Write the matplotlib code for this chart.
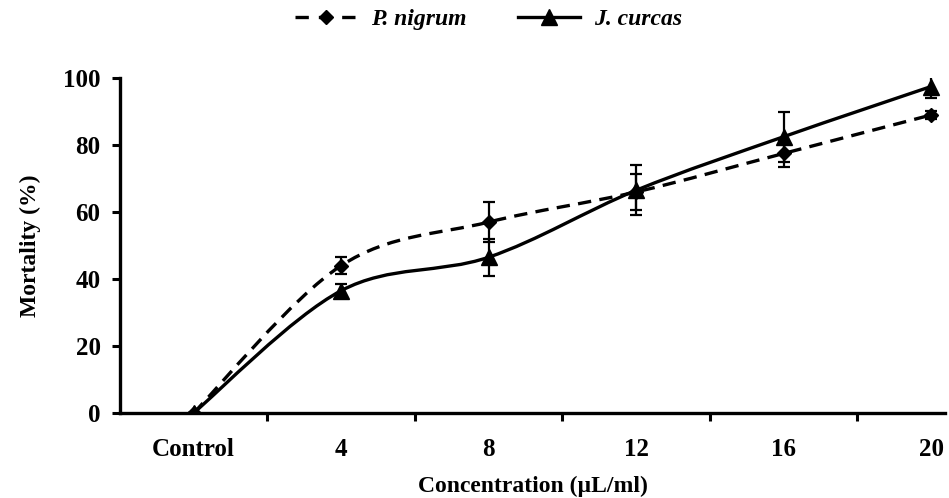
import matplotlib
matplotlib.use("Agg")
import numpy as np
import matplotlib.pyplot as plt
from matplotlib.path import Path
from matplotlib.patches import PathPatch
from matplotlib.lines import Line2D

categories = ["Control", "4", "8", "12", "16", "20"]
nigrum = [0, 44, 57, 66, 77.5, 89]
nigrum_err = [0, 2.5, 6, 5.5, 4, 1.2]
curcas = [0, 36.5, 46.5, 66.5, 82.5, 97.5]
curcas_err = [0, 2, 5.5, 7.5, 7.5, 3.3]


def smooth_path(xs, ys):
    # Excel-like smoothed line: cubic bezier through each point
    pts = np.column_stack([xs, ys]).astype(float)
    n = len(pts)
    verts = [pts[0]]
    codes = [Path.MOVETO]
    for i in range(n - 1):
        p0 = pts[max(i - 1, 0)]
        p1 = pts[i]
        p2 = pts[i + 1]
        p3 = pts[min(i + 2, n - 1)]
        c1 = p1 + (p2 - p0) / 6.0
        c2 = p2 - (p3 - p1) / 6.0
        verts += [c1, c2, p2]
        codes += [Path.CURVE4] * 3
    return Path(verts, codes)


plt.rcParams["font.family"] = ["Liberation Serif", "DejaVu Serif"]
plt.rcParams["font.weight"] = "bold"

fig = plt.figure(figsize=(9.49, 4.98), dpi=100)
ax = fig.add_axes([0.1264, 0.171, 0.8694, 0.672])

x = np.arange(len(categories))

ax.add_patch(PathPatch(smooth_path(x, nigrum), fill=False, color="black",
                       lw=2.4, linestyle=(0, (4, 2.5)), zorder=3))
ax.add_patch(PathPatch(smooth_path(x, curcas), fill=False, color="black",
                       lw=2.4, zorder=3))

ax.errorbar(x, nigrum, yerr=nigrum_err, fmt="none", ecolor="black",
            elinewidth=1.6, capsize=4, capthick=1.6, zorder=4)
ax.errorbar(x, curcas, yerr=curcas_err, fmt="none", ecolor="black",
            elinewidth=1.6, capsize=4, capthick=1.6, zorder=4)
ax.plot(x, nigrum, linestyle="none", marker="D", markersize=7,
        color="black", zorder=5)
ax.plot(x, curcas, linestyle="none", marker="^", markersize=12,
        color="black", zorder=5)

ax.set_xlim(-0.5, 5.095)
ax.set_ylim(0, 100)
ax.set_yticks([0, 20, 40, 60, 80, 100])
ax.set_xticks(x)
ax.set_xticklabels(categories)
ax.set_xticks(np.arange(0.5, 5, 1), minor=True)
ax.tick_params(axis="x", which="major", length=0, pad=18, labelsize=18)
ax.tick_params(axis="x", which="minor", length=6, width=2.2, direction="out")
ax.tick_params(axis="y", length=6, width=2.2, direction="out", labelsize=18,
               pad=8)

for side in ["top", "right"]:
    ax.spines[side].set_visible(False)
for side in ["left", "bottom"]:
    ax.spines[side].set_linewidth(2.4)

ax.set_xlabel("Concentration (\u00b5L/ml)", fontsize=17, fontweight="bold",
              labelpad=11)
ax.set_ylabel("Mortality (%)", fontsize=17, fontweight="bold", labelpad=16)

handles = [
    Line2D([], [], color="black", lw=2.4, linestyle=(0, (4, 3)),
           marker="D", markersize=7),
    Line2D([], [], color="black", lw=2.4, marker="^", markersize=12),
]
fig.legend(handles, ["P. nigrum", "J. curcas"], loc="upper center",
           bbox_to_anchor=(0.515, 1.025), ncol=2, frameon=False,
           prop={"size": 17, "weight": "bold", "style": "italic"},
           handlelength=2.6, columnspacing=2.2, handletextpad=0.6)

fig.savefig("out.png", dpi=100)
